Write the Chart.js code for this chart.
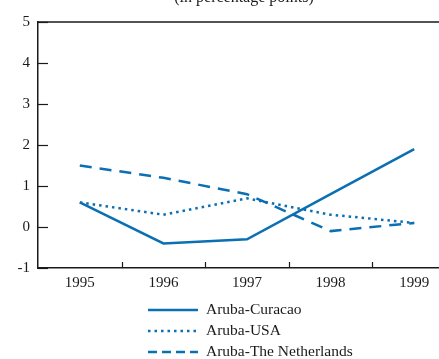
<!DOCTYPE html>
<html>
<head>
<meta charset="utf-8">
<script src="https://cdn.jsdelivr.net/npm/chart.js@4/dist/chart.umd.min.js"></script>
<style>
  html, body { margin: 0; padding: 0; background: #fff; }
  #frame { width: 439px; height: 359px; overflow: hidden; position: relative; }
  #chart { position: absolute; left: 0; top: 0; }
</style>
</head>
<body>
<div id="frame">
  <canvas id="chart" width="460" height="359"></canvas>
</div>
<script>
const YEARS = ['1995', '1996', '1997', '1998', '1999'];

const CURACAO     = [0.6, -0.4, -0.3, 0.8, 1.9];
const USA         = [0.6, 0.3, 0.7, 0.3, 0.1];
const NETHERLANDS = [1.5, 1.2, 0.8, -0.1, 0.1];

const SERIES_NAMES = ['Aruba-Curacao', 'Aruba-USA', 'Aruba-The Netherlands'];
const SUBTITLE = '(in percentage points)';

const BLUE  = '#0a6fb3';
const INK   = '#1a1a1a';
const SERIF = "'Liberation Serif', 'Times New Roman', serif";

// ── Extras: top frame line, inward ticks, clipped subtitle, stacked legend
const decorations = {
  id: 'decorations',
  afterDraw(chart) {
    const { ctx, chartArea: a, scales } = chart;
    ctx.save();
    ctx.strokeStyle = INK;
    ctx.lineWidth = 1.5;

    // top frame line
    ctx.beginPath();
    ctx.moveTo(a.left, a.top);
    ctx.lineTo(chart.width, a.top);
    ctx.stroke();

    // y ticks pointing inside
    ctx.lineWidth = 1.2;
    scales.y.ticks.forEach(t => {
      const y = Math.round(scales.y.getPixelForValue(t.value)) + 0.5;
      ctx.beginPath();
      ctx.moveTo(a.left, y);
      ctx.lineTo(a.left + 10, y);
      ctx.stroke();
    });

    // x ticks between categories
    for (let i = 0; i < YEARS.length - 1; i++) {
      const x = Math.round((scales.x.getPixelForTick(i) + scales.x.getPixelForTick(i + 1)) / 2) + 0.5;
      ctx.beginPath();
      ctx.moveTo(x, a.bottom);
      ctx.lineTo(x, a.bottom - 6);
      ctx.stroke();
    }

    // subtitle, cut by the top edge as in the source
    ctx.fillStyle = INK;
    ctx.font = `16px ${SERIF}`;
    ctx.textAlign = 'center';
    ctx.textBaseline = 'alphabetic';
    ctx.fillText(SUBTITLE, 244, 2);

    // legend, one row per series
    ctx.textAlign = 'left';
    ctx.textBaseline = 'middle';
    ctx.font = `15.5px ${SERIF}`;
    chart.data.datasets.forEach((ds, i) => {
      const y = 310 + i * 21;
      ctx.strokeStyle = ds.borderColor;
      ctx.lineWidth = ds.borderWidth;
      ctx.setLineDash(ds.legendDash);
      ctx.beginPath();
      ctx.moveTo(148, y);
      ctx.lineTo(198, y);
      ctx.stroke();
      ctx.setLineDash([]);
      ctx.fillStyle = INK;
      ctx.fillText(ds.label, 206, y);
    });
    ctx.restore();
  },
};

function series(label, data, dash, legendDash) {
  return {
    label, data,
    borderColor: BLUE,
    borderWidth: 2.5,
    borderDash: dash,
    legendDash,
    pointRadius: 0,
    tension: 0,
    fill: false,
  };
}

new Chart(document.getElementById('chart'), {
  type: 'line',
  data: {
    labels: YEARS,
    datasets: [
      series(SERIES_NAMES[0], CURACAO, [], []),
      series(SERIES_NAMES[1], USA, [2.5, 4], [2.5, 4]),
      series(SERIES_NAMES[2], NETHERLANDS, [12, 8], [9, 5]),
    ],
  },
  options: {
    responsive: false,
    animation: false,
    layout: { padding: { top: 22, right: 4, left: 0, bottom: 0 } },
    plugins: {
      legend:  { display: false },
      title:   { display: false },
      tooltip: { enabled: false },
    },
    scales: {
      x: {
        offset: true,
        grid: { display: false, drawTicks: false },
        border: { display: true, color: INK, width: 1.5 },
        ticks: { color: INK, padding: 6, font: { family: SERIF, size: 15 } },
        afterFit: s => { s.height = 91; },
      },
      y: {
        min: -1,
        max: 5,
        grid: { display: false, drawTicks: false },
        border: { display: true, color: INK, width: 1.5 },
        ticks: { stepSize: 1, color: INK, padding: 8, font: { family: SERIF, size: 15 } },
        afterFit: s => { s.width = 38; },
      },
    },
  },
  plugins: [decorations],
});
</script>
</body>
</html>
